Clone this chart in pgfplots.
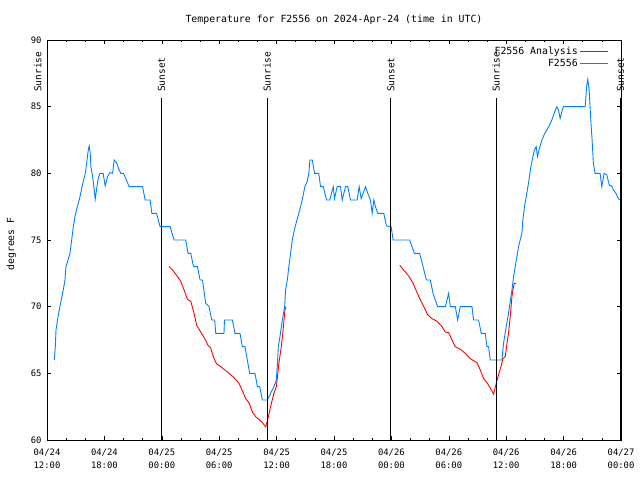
\documentclass[border=0pt]{standalone}
\usepackage{pgfplots}
\pgfplotsset{compat=1.18}
\usepackage{fontspec}
\setmainfont{DejaVu Sans Mono}
\definecolor{gpblue}{RGB}{0,128,255}
\definecolor{gpred}{RGB}{255,0,0}
\begin{document}
\begin{tikzpicture}[x=1bp,y=1bp]
\useasboundingbox (0,0) rectangle (640,480);
\node[font=\fontsize{9.9}{11}\selectfont] at (334,460) {Temperature for F2556 on 2024-Apr-24 (time in UTC)};
\begin{axis}[
  at={(47bp,40bp)}, anchor=south west,
  scale only axis, width=574bp, height=400bp,
  xmin=0, xmax=60, ymin=60, ymax=90,
  clip=false,
  axis line style={line width=0.8pt},
  xtick={0,6,...,60},
  minor xtick={2,4,8,10,14,16,20,22,26,28,32,34,38,40,44,46,50,52,56,58},
  xticklabels={{04/24\\12:00},{04/24\\18:00},{04/25\\00:00},{04/25\\06:00},{04/25\\12:00},{04/25\\18:00},{04/26\\00:00},{04/26\\06:00},{04/26\\12:00},{04/26\\18:00},{04/27\\00:00}},
  xticklabel style={align=center, font=\fontsize{8.9}{13}\selectfont, yshift=-5bp},
  ytick={60,65,...,90},
  yticklabel style={font=\fontsize{8.9}{10}\selectfont, xshift=-2bp},
  /pgf/number format/assume math mode=true,
  tick align=inside,
  major tick length=4bp, minor tick length=2bp,
  tick style={black, line width=0.6pt},
  ylabel={degrees F},
  ylabel style={at={(axis description cs:-0.062,0.49)}, anchor=center, rotate=0, font=\fontsize{9.8}{11}\selectfont},
  legend style={at={(0.984,0.992)}, anchor=north east, draw=none, fill=none,
    font=\fontsize{9.9}{12}\selectfont, row sep=-1.5bp},
  legend cell align=right,
  legend plot pos=right,
  legend image code/.code={\draw[#1] (0cm,0cm) -- (28bp,0cm);},
]
% Analysis (red), first night
\addplot[gpred, line width=0.9pt] coordinates {
(12.76,73.0)(13.12,72.75)(13.64,72.25)(13.98,71.9)(14.33,71.25)(14.68,70.55)(15.03,70.4)(15.37,69.5)(15.65,68.6)(16.07,68.1)(16.49,67.6)(16.83,67.1)(17.11,66.9)(17.46,66.1)(17.74,65.7)(18.16,65.5)(18.68,65.2)(19.20,64.9)(19.72,64.55)(20.07,64.25)(20.42,63.7)(20.77,63.1)(21.11,62.8)(21.47,62.1)(21.81,61.75)(22.15,61.55)(22.51,61.3)(22.85,61.0)(23.03,61.4)(23.37,62.5)(23.72,63.5)(23.97,64.0)(24.24,65.75)(24.49,67.0)(24.68,68.25)(24.87,69.75)(24.97,70.0)
};
\addlegendentry{F2556 Analysis}
% Observations (blue)
\addplot[gpblue, line width=0.9pt] coordinates {
(0.76,66.0)(0.87,67.0)(0.94,68.25)(1.12,69.1)(1.28,69.75)(1.46,70.4)(1.70,71.25)(1.88,72)(1.98,73)(2.16,73.4)(2.40,74)(2.58,75)(2.75,76)(2.92,76.75)(3.13,77.4)(3.37,78)(3.55,78.6)(3.79,79.4)(4.00,80)(4.17,80.9)(4.31,81.75)(4.41,82.05)(4.52,81.5)(4.59,80.5)(4.77,79.75)(4.94,78.75)(5.04,78.05)(5.22,79)(5.35,79.6)(5.53,80)(5.87,80)(6.08,79.05)(6.33,79.75)(6.57,80.05)(6.86,80)(7.02,81)(7.30,80.75)(7.54,80.25)(7.72,80)(8.00,80)(8.24,79.6)(8.59,79)(9.99,79)(10.26,78)(10.78,78)(10.96,77)(11.45,77)(11.82,76)(12.87,76)(13.28,75)(14.50,75)(14.74,74)(15.03,74)(15.31,73)(15.73,73)(16.00,72)(16.25,72)(16.59,70.25)(16.94,70)(17.22,69)(17.53,69)(17.64,68)(18.50,68)(18.55,69)(19.38,69)(19.65,68)(20.17,68)(20.42,67)(20.69,67)(20.94,66)(21.18,65)(21.74,65)(21.99,64)(22.23,64)(22.51,63)(23.03,63)(23.37,63.5)(23.72,64)(23.97,64.5)(24.07,65.5)(24.18,67)(24.35,67.75)(24.60,69)(24.84,70)(24.94,71.25)(25.12,72)(25.28,73)(25.46,74)(25.64,75)(25.81,75.6)(25.98,76.1)(26.22,76.75)(26.51,77.5)(26.79,78.4)(26.95,79)(27.20,79.4)(27.37,80)(27.48,81)(27.73,81)(27.97,80)(28.41,80)(28.59,79)(28.87,79)(29.22,78)(29.56,78)(29.92,79)(30.05,78.1)(30.33,79)(30.68,79)(30.86,78)(31.20,79)(31.44,79)(31.72,78)(32.42,78)(32.63,79)(32.84,78.1)(33.29,79)(33.53,78.5)(33.81,78)(33.99,77)(34.16,78)(34.33,77.5)(34.57,77)(35.20,77)(35.48,76.05)(35.97,76)(36.18,75)(37.91,75)(38.40,74)(38.95,74)(39.31,73)(39.65,72)(40.07,72)(40.35,71)(40.83,70)(41.64,70)(41.98,71)(42.16,70)(42.68,70)(42.92,69)(43.20,70)(44.42,70)(44.59,69)(45.11,69)(45.39,68)(45.81,68)(45.99,67)(46.16,67)(46.33,66)(47.55,66)(47.72,67.25)(48.00,68.5)(48.24,69.5)(48.60,71.25)(48.77,72.25)(48.94,73)(49.12,73.75)(49.29,74.5)(49.46,75)(49.64,75.5)(49.74,76.5)(49.91,77.5)(50.09,78.25)(50.27,79)(50.43,79.75)(50.58,80.5)(50.79,81.25)(50.95,81.75)(51.13,82)(51.27,81.25)(51.48,81.9)(51.73,82.5)(51.97,82.9)(52.25,83.25)(52.52,83.6)(52.77,84)(53.01,84.5)(53.29,85)(53.46,84.75)(53.64,84.1)(53.81,84.6)(53.98,85)(56.25,85)(56.42,86.6)(56.53,87.05)(56.67,86.25)(56.84,84)(56.98,82.5)(57.11,80.75)(57.29,80)(57.81,80)(57.99,79)(58.23,80)(58.51,79.9)(58.78,79.1)(59.03,79.05)(59.20,78.75)(59.48,78.5)(59.72,78.1)(59.90,78)
};
\addlegendentry{F2556}
% Analysis (red), second night
\addplot[gpred, line width=0.9pt, forget plot] coordinates {
(36.87,73.1)(37.28,72.75)(37.81,72.3)(38.27,71.75)(38.68,71.05)(39.03,70.5)(39.45,69.9)(39.79,69.4)(40.25,69.1)(40.77,68.9)(41.29,68.5)(41.64,68.1)(41.98,68.05)(42.33,67.5)(42.68,67)(43.20,66.8)(43.72,66.5)(44.24,66.1)(44.94,65.8)(45.29,65.25)(45.64,64.6)(45.99,64.3)(46.33,63.9)(46.68,63.45)(46.96,64.25)(47.20,64.9)(47.45,65.5)(47.66,66.1)(47.90,66.25)(48.08,67.25)(48.24,68)(48.42,69.25)(48.60,70.75)(48.70,71.25)(48.84,71.75)(49.0,71.75)
};
% Sunrise / sunset markers
\foreach \t in {11.97,23.0,35.95,46.95,59.95}{
  \edef\tmp{\noexpand\draw[black, line width=0.9pt] (axis cs:\t,60) -- (axis cs:\t,85.65);}
  \tmp
}
\node[rotate=90, anchor=west, inner sep=0pt, font=\fontsize{9.5}{11}\selectfont] at (axis cs:-0.95,86.1) {Sunrise};
\node[rotate=90, anchor=west, inner sep=0pt, font=\fontsize{9.5}{11}\selectfont] at (axis cs:11.97,86.1) {Sunset};
\node[rotate=90, anchor=west, inner sep=0pt, font=\fontsize{9.5}{11}\selectfont] at (axis cs:23.0,86.1) {Sunrise};
\node[rotate=90, anchor=west, inner sep=0pt, font=\fontsize{9.5}{11}\selectfont] at (axis cs:35.95,86.1) {Sunset};
\node[rotate=90, anchor=west, inner sep=0pt, font=\fontsize{9.5}{11}\selectfont] at (axis cs:46.95,86.1) {Sunrise};
\node[rotate=90, anchor=west, inner sep=0pt, font=\fontsize{9.5}{11}\selectfont] at (axis cs:59.95,86.1) {Sunset};
\end{axis}
\end{tikzpicture}
\end{document}
